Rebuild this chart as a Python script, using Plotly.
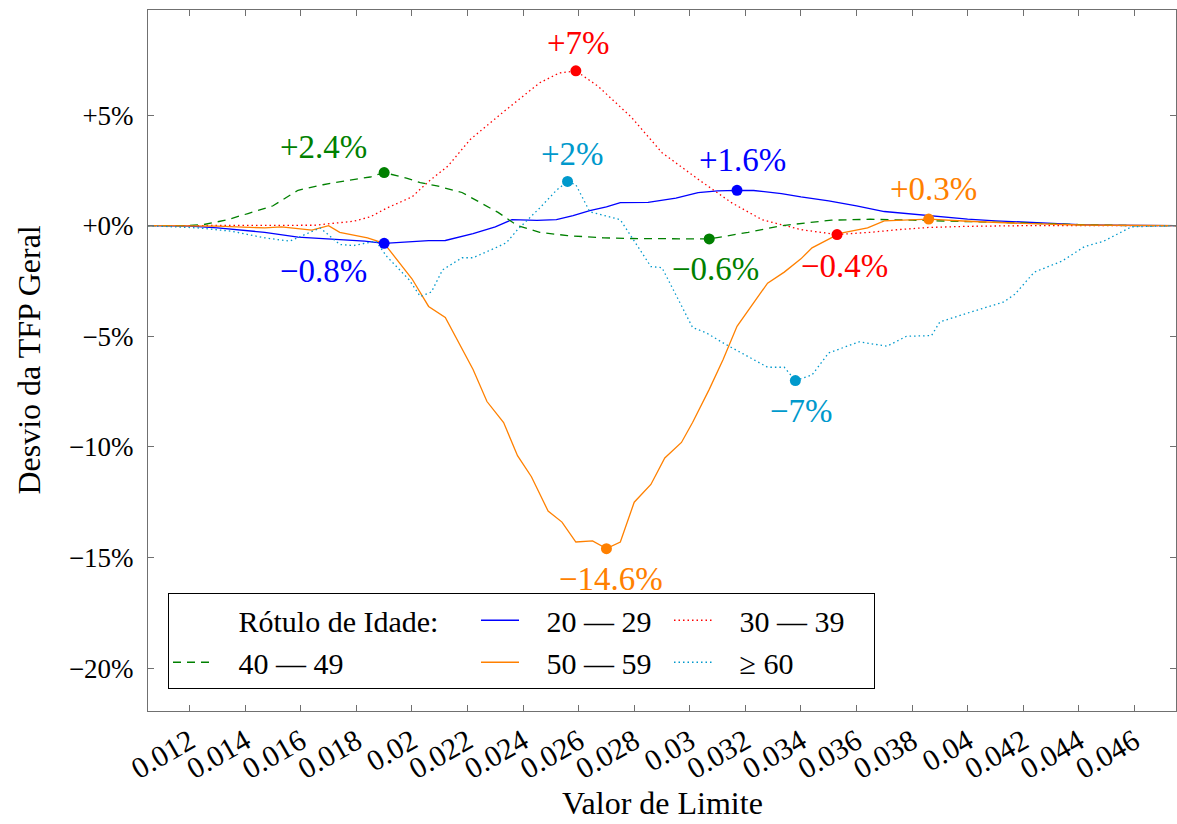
import plotly.graph_objects as go

# ---------------- data (values in %) ----------------
series_names = ["20 — 29", "30 — 39", "40 — 49", "50 — 59", "≥ 60"]
legend_title = "Rótulo de Idade:"

age_20_29_x = [0.0105, 0.0120, 0.0130, 0.0147, 0.0159, 0.0171, 0.0183, 0.0190, 0.0200, 0.0206,
               0.0212, 0.0222, 0.0230, 0.0236, 0.0245, 0.0252, 0.0258, 0.0264, 0.0270, 0.0275,
               0.0285, 0.0295, 0.0303, 0.0310, 0.0317, 0.0323, 0.0333, 0.0340, 0.0350, 0.0360,
               0.0370, 0.0380, 0.0390, 0.0400, 0.0410, 0.0420, 0.0430, 0.0440, 0.0450, 0.0460, 0.0475]
age_20_29_y = [0.0, -0.02, -0.1, -0.3, -0.52, -0.62, -0.7, -0.8, -0.72, -0.68,
               -0.67, -0.36, -0.05, 0.27, 0.24, 0.27, 0.45, 0.68, 0.85, 1.04,
               1.05, 1.25, 1.49, 1.57, 1.6, 1.59, 1.45, 1.3, 1.12, 0.9,
               0.64, 0.52, 0.4, 0.3, 0.22, 0.16, 0.1, 0.05, 0.02, 0.0, 0.0]

age_30_39_x = [0.0105, 0.0150, 0.0165, 0.0179, 0.0185, 0.0191, 0.0200, 0.0206, 0.0213, 0.0221,
               0.0233, 0.0246, 0.0253, 0.0259, 0.0267, 0.0279, 0.0290, 0.0303, 0.0315, 0.0326,
               0.0340, 0.0353, 0.0365, 0.0375, 0.0386, 0.0400, 0.0420, 0.0475]
age_30_39_y = [0.0, 0.0, 0.02, 0.2, 0.4, 0.8, 1.3, 2.0, 2.7, 3.9,
               5.15, 6.46, 6.9, 7.0, 6.3, 4.9, 3.3, 2.1, 1.04, 0.27,
               -0.18, -0.4, -0.3, -0.18, -0.08, -0.03, 0.0, 0.0]

age_40_49_x = [0.0105, 0.0118, 0.0125, 0.0133, 0.0141, 0.0150, 0.0159, 0.0168, 0.0177, 0.0185,
               0.0190, 0.0198, 0.0203, 0.0209, 0.0218, 0.0231, 0.0238, 0.0246, 0.0256, 0.0269,
               0.0279, 0.0293, 0.0307, 0.0321, 0.0333, 0.0351, 0.0365, 0.0380, 0.0400, 0.0420,
               0.0440, 0.0460, 0.0475]
age_40_49_y = [0.0, 0.0, 0.05, 0.25, 0.55, 0.9, 1.6, 1.85, 2.05, 2.2,
               2.4, 2.15, 1.95, 1.8, 1.5, 0.6, 0.0, -0.3, -0.45, -0.55,
               -0.58, -0.58, -0.6, -0.3, 0.0, 0.25, 0.29, 0.25, 0.2, 0.12,
               0.05, 0.0, 0.0]

age_50_59_x = [0.0105, 0.0130, 0.0147, 0.0153, 0.0164, 0.0170, 0.0174, 0.0184, 0.0190, 0.0200,
               0.0206, 0.0212, 0.0222, 0.0227, 0.0233, 0.0238, 0.0243, 0.0249, 0.0254, 0.0259,
               0.0265, 0.0270, 0.0275, 0.0280, 0.0286, 0.0291, 0.0297, 0.0301, 0.0307, 0.0312,
               0.0317, 0.0328, 0.0334, 0.0340, 0.0344, 0.0354, 0.0364, 0.0370, 0.0386, 0.0400,
               0.0420, 0.0440, 0.0475]
age_50_59_y = [0.0, -0.02, -0.1, -0.05, -0.2, 0.0, -0.3, -0.55, -0.8, -2.4,
               -3.65, -4.15, -6.5, -7.95, -8.9, -10.4, -11.35, -12.9, -13.4, -14.3,
               -14.25, -14.6, -14.3, -12.5, -11.7, -10.5, -9.8, -8.9, -7.4, -6.05,
               -4.55, -2.6, -2.1, -1.5, -1.0, -0.35, -0.1, 0.22, 0.3, 0.2,
               0.1, 0.03, 0.0]

age_60p_x = [0.0105, 0.0123, 0.0135, 0.0147, 0.0156, 0.0164, 0.0167, 0.0174, 0.0179, 0.0187,
             0.0191, 0.0199, 0.0203, 0.0207, 0.0211, 0.0218, 0.0222, 0.0231, 0.0234, 0.0238,
             0.0246, 0.0252, 0.0256, 0.0259, 0.0264, 0.0275, 0.0286, 0.0290, 0.0301, 0.0306,
             0.0312, 0.0328, 0.0334, 0.0338, 0.0344, 0.0350, 0.0361, 0.0371, 0.0378, 0.0387,
             0.0390, 0.0400, 0.0413, 0.0417, 0.0424, 0.0434, 0.0442, 0.0449, 0.0459, 0.0475]
age_60p_y = [0.0, -0.1, -0.25, -0.55, -0.7, -0.27, -0.1, -0.85, -0.9, -0.7,
             -1.4, -2.45, -3.2, -3.0, -2.0, -1.45, -1.45, -0.95, -0.77, -0.18,
             0.8, 1.6, 2.0, 1.85, 0.63, 0.27, -1.85, -1.9, -4.6, -4.85,
             -5.3, -6.4, -6.4, -7.0, -6.75, -5.75, -5.25, -5.45, -5.0, -4.97,
             -4.35, -3.95, -3.45, -3.1, -2.1, -1.6, -0.95, -0.7, -0.05, 0.0]

y_tick_vals = [-20, -15, -10, -5, 0, 5]
y_tick_text = ["−20%", "−15%", "−10%", "−5%", "+0%", "+5%"]
x_tick_vals = [0.012, 0.014, 0.016, 0.018, 0.020, 0.022, 0.024, 0.026, 0.028, 0.030,
               0.032, 0.034, 0.036, 0.038, 0.040, 0.042, 0.044, 0.046]
x_tick_text = ["0.012", "0.014", "0.016", "0.018", "0.02", "0.022", "0.024", "0.026", "0.028",
               "0.03", "0.032", "0.034", "0.036", "0.038", "0.04", "0.042", "0.044", "0.046"]

# ---------------- styles ----------------
FONT = "Liberation Serif"
colors = ["#0000ff", "#ff0000", "#008000", "#ff8000", "#0099cc"]
dashes = ["solid", "1.5px,3px", "8px,6px", "solid", "1.5px,3px"]
groups = ["c2", "c3", "c1", "c2", "c3"]
legend_widths = [140, 152, 255, 140, 152]
PAD = "\u00a0\u00a0\u00a0"

xs = [age_20_29_x, age_30_39_x, age_40_49_x, age_50_59_x, age_60p_x]
ys = [age_20_29_y, age_30_39_y, age_40_49_y, age_50_59_y, age_60p_y]

# label offsets (px) relative to marker: (max label, min label)
offsets = [((5, 30), (-61, -28)),
           ((3, 28), (7, -31)),
           ((-61, 26), (6, -30)),
           ((5, 30), (5, -30)),
           ((5, 27), (6, -30))]


def fmt(v):
    s = f"{v:+.1f}"
    if s.endswith(".0"):
        s = s[:-2]
    return s.replace("-", "−") + "%"


fig = go.Figure()

# legend title entry (no symbol)
fig.add_trace(go.Scatter(x=[None], y=[None], mode="lines", name=PAD + legend_title,
                         line=dict(width=0, color="rgba(0,0,0,0)"),
                         legendgroup="c1", legendwidth=255, hoverinfo="skip"))

for i in range(5):
    fig.add_trace(go.Scatter(
        x=xs[i], y=ys[i], mode="lines", name=PAD + series_names[i],
        line=dict(color=colors[i], width=1.3, dash=dashes[i]),
        legendgroup=groups[i], legendwidth=legend_widths[i], hoverinfo="skip"))

annotations = []
for i in range(5):
    y = ys[i]
    imax = max(range(len(y)), key=lambda k: y[k])
    imin = min(range(len(y)), key=lambda k: y[k])
    ex = [xs[i][imax], xs[i][imin]]
    ey = [y[imax], y[imin]]
    fig.add_trace(go.Scatter(x=ex, y=ey, mode="markers", showlegend=False,
                             marker=dict(color=colors[i], size=11), hoverinfo="skip"))
    for j in range(2):
        dx, dy = offsets[i][j]
        annotations.append(dict(x=ex[j], y=ey[j], xref="x", yref="y", text=fmt(ey[j]),
                                showarrow=False, xanchor="center", yanchor="middle",
                                xshift=dx, yshift=dy,
                                font=dict(family=FONT, size=33, color=colors[i])))

annotations.append(dict(x=-0.1167, y=0.5, xref="paper", yref="paper", text="Desvio da TFP Geral",
                        showarrow=False, textangle=-90, xanchor="center", yanchor="middle",
                        font=dict(family=FONT, size=32, color="black")))
annotations.append(dict(x=0.5, y=-0.1598, xref="paper", yref="paper", text="Valor de Limite",
                        showarrow=False, xanchor="center", yanchor="bottom",
                        font=dict(family=FONT, size=32, color="black")))

AX = "#707070"
fig.update_layout(
    width=1177, height=824,
    margin=dict(l=148, r=1, t=10, b=113, autoexpand=False),
    paper_bgcolor="white", plot_bgcolor="white",
    font=dict(family=FONT, color="black"),
    annotations=annotations,
    legend=dict(orientation="h", x=0.01946, y=0.031, xanchor="left", yanchor="bottom",
                traceorder="grouped", bgcolor="white", bordercolor="black", borderwidth=1,
                itemwidth=38, tracegroupgap=0,
                font=dict(family=FONT, size=30, color="black")),
    xaxis=dict(range=[0.0105, 0.0475], tickvals=x_tick_vals, ticktext=x_tick_text,
               tickangle=-30, ticks="inside", ticklen=6, tickcolor=AX,
               showline=True, linecolor=AX, linewidth=1, mirror="allticks",
               showgrid=False, zeroline=False,
               tickfont=dict(family=FONT, size=30, color="black")),
    yaxis=dict(range=[-21.94, 9.75], tickvals=y_tick_vals, ticktext=y_tick_text,
               ticks="inside", ticklen=6, tickcolor=AX, ticklabelstandoff=8,
               showline=True, linecolor=AX, linewidth=1, mirror="allticks",
               showgrid=False, zeroline=False,
               tickfont=dict(family=FONT, size=27, color="black")),
)

fig.write_html("out.html", config={"displayModeBar": False},
               post_script="document.body.style.margin='0';document.body.style.overflow='hidden';")
